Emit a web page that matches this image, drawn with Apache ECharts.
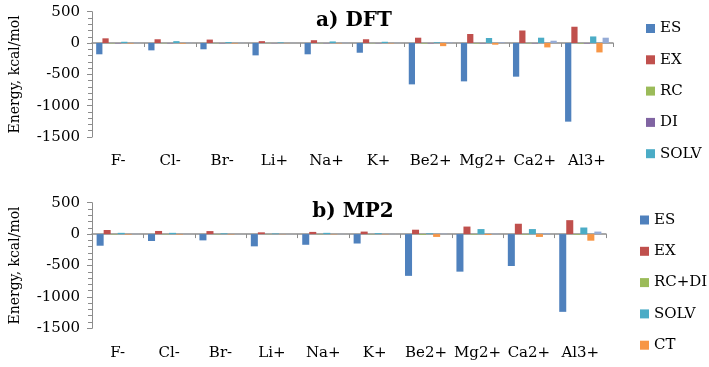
<!DOCTYPE html>
<html>
<head>
<meta charset="utf-8">
<script src="https://cdn.jsdelivr.net/npm/echarts@6/dist/echarts.min.js"></script>
<style>
  html, body { margin: 0; padding: 0; background: #fff; }
  #chart { width: 709px; height: 367px; }
</style>
</head>
<body>
<div id="chart"></div>
<script>
// categories (ions)
const categories = ['F-', 'Cl-', 'Br-', 'Li+', 'Na+', 'K+', 'Be2+', 'Mg2+', 'Ca2+', 'Al3+']

// a) DFT energy terms, kcal/mol
const dftES = [-180, -117, -100, -197, -180, -155, -660, -612, -537, -1255]
const dftEX = [75, 60, 55, 30, 45, 60, 85, 144, 200, 260]
const dftRC = [-5, -4, -4, -3, -4, -4, -8, -8, -6, -8]
const dftDI = [-6, -5, -5, -3, -4, -4, -6, -6, -6, -7]
const dftSOLV = [20, 30, 15, 10, 25, 20, 12, 80, 85, 105]
const dftCT = [-8, -10, -8, -3, -6, -6, -50, -27, -70, -150]
const dftPOL = [5, 4, 3, 2, 4, 3, 8, 10, 37, 85]

// b) MP2 energy terms, kcal/mol
const mp2ES = [-185, -110, -100, -195, -170, -150, -665, -598, -508, -1238]
const mp2EX = [65, 50, 48, 28, 35, 40, 70, 120, 165, 222]
const mp2RCDI = [-6, -5, -5, -3, -4, -4, -12, -8, -8, -10]
const mp2SOLV = [20, 20, 12, 10, 20, 15, 12, 80, 80, 105]
const mp2CT = [-8, -8, -6, -3, -5, -5, -45, -15, -45, -105]
const mp2POL = [4, 3, 2, 2, 3, 3, 6, 6, 12, 40]

const colors = {
  ES: '#4F81BD', EX: '#C0504D', RC: '#9BBB59', DI: '#8064A2',
  SOLV: '#4BACC6', CT: '#F79646', POL: '#95ABD6'
}

const FONT = 'DejaVu Serif'
const AXIS_COLOR = '#8c8c8c'

const chart = echarts.init(document.getElementById('chart'))

// two x axes per grid: one on the zero line (line + ticks), one at the bottom (labels)
const makeX = (gridIndex) => [
  {
    type: 'category', gridIndex, data: categories, position: 'bottom',
    axisLine: { onZero: true, lineStyle: { color: AXIS_COLOR, width: 1.5 } },
    axisTick: { show: true, length: 4, interval: 0, lineStyle: { color: AXIS_COLOR } },
    axisLabel: { show: false }
  },
  {
    type: 'category', gridIndex, data: categories, position: 'bottom',
    axisLine: { show: false, onZero: false },
    axisTick: { show: false },
    axisLabel: { interval: 0, hideOverlap: false, color: '#000', fontFamily: FONT, fontSize: 15, margin: 17 }
  }
]

const makeY = (gridIndex) => ({
  type: 'value', gridIndex, min: -1500, max: 500, interval: 500,
  name: 'Energy, kcal/mol', nameLocation: 'middle', nameGap: 70,
  nameTextStyle: { fontFamily: FONT, fontSize: 14, color: '#000' },
  axisLine: { show: true, lineStyle: { color: AXIS_COLOR } },
  axisTick: { show: true, length: 5, lineStyle: { color: AXIS_COLOR } },
  minorTick: { show: true, splitNumber: 5, length: 4, lineStyle: { color: AXIS_COLOR } },
  splitLine: { show: false },
  axisLabel: { color: '#000', fontFamily: FONT, fontSize: 15, margin: 12, formatter: v => String(v) }
})

const bar = (name, data, idx, color, gap) => ({
  name, type: 'bar', data, xAxisIndex: idx * 2, yAxisIndex: idx,
  barGap: 0, barCategoryGap: gap,
  itemStyle: { color }
})

const legend = (data, left, top) => ({
  data, orient: 'vertical', left, top,
  icon: 'rect', itemWidth: 9, itemHeight: 9, itemGap: 15.3,
  textStyle: { fontFamily: FONT, fontSize: 15, color: '#000', lineHeight: 16 }
})

chart.setOption({
  animation: false,
  title: [
    { text: 'a) DFT', left: 349, top: 6, textAlign: 'center',
      textStyle: { fontFamily: FONT, fontSize: 20, fontWeight: 'bold', color: '#000' } },
    { text: 'b) MP2', left: 348, top: 197, textAlign: 'center',
      textStyle: { fontFamily: FONT, fontSize: 20, fontWeight: 'bold', color: '#000' } }
  ],
  grid: [
    { left: 88, top: 11.7, width: 525, height: 125.3 },
    { left: 88, top: 202.7, width: 518, height: 125.6 }
  ],
  xAxis: [...makeX(0), ...makeX(1)],
  yAxis: [makeY(0), makeY(1)],
  legend: [
    legend(['ES', 'EX', 'RC', 'DI', 'SOLV'], 641, 15.5),
    legend(['ES', 'EX', 'RC+DI', 'SOLV', 'CT'], 635, 207)
  ],
  series: [
    bar('ES', dftES, 0, colors.ES, '16%'),
    bar('EX', dftEX, 0, colors.EX, '16%'),
    bar('RC', dftRC, 0, colors.RC, '16%'),
    bar('DI', dftDI, 0, colors.DI, '16%'),
    bar('SOLV', dftSOLV, 0, colors.SOLV, '16%'),
    bar('CT ', dftCT, 0, colors.CT, '16%'),
    bar('POL ', dftPOL, 0, colors.POL, '16%'),

    bar('ES', mp2ES, 1, colors.ES, '18%'),
    bar('EX', mp2EX, 1, colors.EX, '18%'),
    bar('RC+DI', mp2RCDI, 1, colors.RC, '18%'),
    bar('SOLV', mp2SOLV, 1, colors.SOLV, '18%'),
    bar('CT', mp2CT, 1, colors.CT, '18%'),
    bar('POL', mp2POL, 1, colors.POL, '18%')
  ]
})

window.addEventListener('resize', () => chart.resize())
</script>
</body>
</html>
